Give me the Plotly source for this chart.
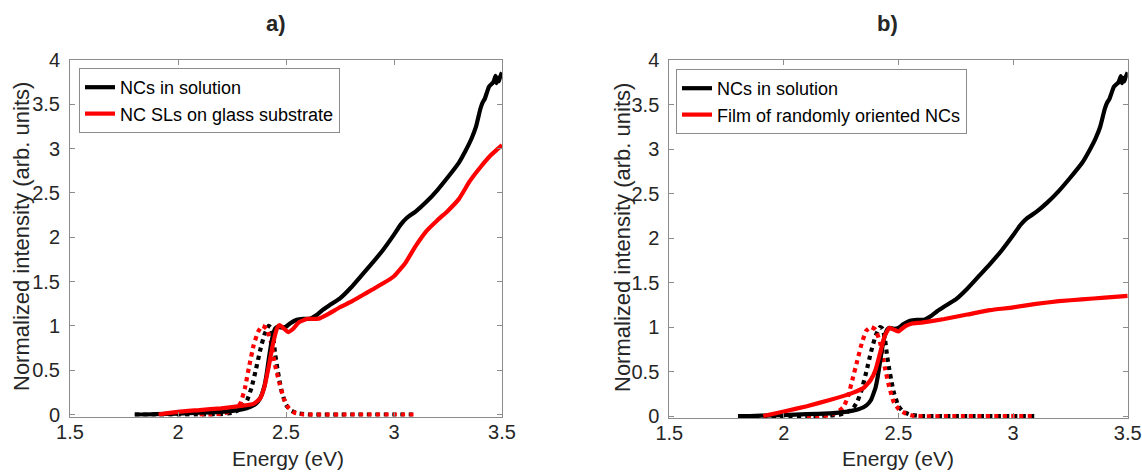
import plotly.graph_objects as go

# Absorption of the NCs in solution (solid black, both panels)
abs_sol_x = [1.80, 1.85, 1.90, 2.00, 2.10, 2.20, 2.25, 2.30, 2.33, 2.36, 2.38, 2.40, 2.41, 2.42,
             2.43, 2.44, 2.45, 2.46, 2.48, 2.50, 2.52, 2.55, 2.58, 2.61, 2.64, 2.67, 2.70, 2.75,
             2.80, 2.85, 2.90, 2.95, 3.00, 3.03, 3.06, 3.10, 3.15, 3.20, 3.25, 3.30, 3.33, 3.36,
             3.38, 3.40, 3.41, 3.42, 3.44, 3.46, 3.47, 3.475, 3.48, 3.485, 3.49, 3.50]
abs_sol_y = [0.00, 0.00, 0.005, 0.01, 0.02, 0.03, 0.04, 0.06, 0.08, 0.12, 0.18, 0.32, 0.45, 0.62,
             0.78, 0.90, 0.97, 0.99, 0.98, 0.99, 1.03, 1.07, 1.08, 1.08, 1.12, 1.18, 1.23, 1.31,
             1.43, 1.57, 1.71, 1.86, 2.03, 2.14, 2.22, 2.29, 2.40, 2.53, 2.68, 2.84, 2.97, 3.12,
             3.25, 3.45, 3.52, 3.56, 3.70, 3.75, 3.82, 3.74, 3.80, 3.76, 3.80, 3.86]

# Photoluminescence of the NCs in solution (dotted black, both panels)
pl_sol_x = [1.80, 1.90, 2.00, 2.10, 2.20, 2.25, 2.28, 2.30, 2.32, 2.34, 2.36, 2.38, 2.40, 2.42,
            2.43, 2.44, 2.45, 2.46, 2.47, 2.48, 2.50, 2.52, 2.55, 2.60, 2.80, 3.00, 3.10]
pl_sol_y = [0.00, 0.00, 0.00, 0.00, 0.005, 0.02, 0.05, 0.08, 0.16, 0.30, 0.50, 0.72, 0.90, 1.00,
            0.98, 0.88, 0.68, 0.52, 0.38, 0.26, 0.11, 0.05, 0.015, 0.00, 0.00, 0.00, 0.00]

# Panel a: NC superlattices on glass substrate
abs_sl_x = [1.91, 2.00, 2.10, 2.20, 2.30, 2.35, 2.38, 2.40, 2.42, 2.44, 2.46, 2.47, 2.49, 2.51,
            2.53, 2.56, 2.60, 2.65, 2.70, 2.75, 2.80, 2.85, 2.90, 2.95, 3.00, 3.05, 3.10, 3.15,
            3.20, 3.25, 3.30, 3.35, 3.40, 3.45, 3.50]
abs_sl_y = [0.00, 0.03, 0.05, 0.07, 0.10, 0.12, 0.18, 0.31, 0.54, 0.80, 0.98, 1.01, 0.97, 0.93,
            0.96, 1.04, 1.08, 1.08, 1.14, 1.21, 1.27, 1.34, 1.41, 1.48, 1.56, 1.70, 1.90, 2.07,
            2.19, 2.30, 2.43, 2.63, 2.79, 2.93, 3.04]
pl_sl_x = [2.10, 2.15, 2.20, 2.24, 2.27, 2.29, 2.31, 2.33, 2.35, 2.37, 2.39, 2.41, 2.43, 2.45,
           2.47, 2.49, 2.51, 2.54, 2.58, 2.80, 3.00, 3.10]
pl_sl_y = [0.00, 0.00, 0.01, 0.03, 0.07, 0.13, 0.30, 0.55, 0.78, 0.93, 1.00, 0.97, 0.82, 0.55,
           0.35, 0.18, 0.08, 0.02, 0.00, 0.00, 0.00, 0.00]

# Panel b: film of randomly oriented NCs
abs_film_x = [1.91, 2.00, 2.10, 2.20, 2.30, 2.35, 2.38, 2.40, 2.42, 2.44, 2.46, 2.48, 2.50, 2.53,
              2.56, 2.60, 2.70, 2.80, 2.90, 3.00, 3.10, 3.20, 3.30, 3.40, 3.50]
abs_film_y = [0.00, 0.05, 0.11, 0.18, 0.26, 0.32, 0.41, 0.52, 0.71, 0.90, 0.99, 0.97, 0.95, 1.01,
              1.04, 1.05, 1.09, 1.14, 1.19, 1.22, 1.26, 1.29, 1.31, 1.33, 1.35]
pl_film_x = [2.10, 2.15, 2.20, 2.23, 2.26, 2.28, 2.30, 2.32, 2.34, 2.36, 2.38, 2.40, 2.42, 2.44,
             2.46, 2.48, 2.50, 2.53, 2.57, 2.80, 3.00, 3.10]
pl_film_y = [0.00, 0.00, 0.01, 0.04, 0.10, 0.22, 0.42, 0.62, 0.82, 0.96, 1.00, 0.97, 0.82, 0.55,
             0.32, 0.15, 0.08, 0.03, 0.00, 0.00, 0.00, 0.00]

x_ticks = [1.5, 2, 2.5, 3, 3.5]
y_ticks = [0, 0.5, 1, 1.5, 2, 2.5, 3, 3.5, 4]

FONT = "Liberation Sans, Arial, Helvetica, sans-serif"
W, H = 1142, 472
LW = 4.2
Y_LOW = -0.025   # small pad so the baseline of the curves is not cut by the frame

fig = go.Figure()

def add_panel(xa, ya, legend, sample_x, sample_y, sample_name, pl_x, pl_y):
    smooth = dict(shape="spline", smoothing=0.4)
    fig.add_trace(go.Scatter(x=pl_sol_x, y=pl_sol_y, mode="lines", xaxis=xa, yaxis=ya,
                             line=dict(color="black", width=LW, dash="dot", **smooth),
                             showlegend=False))
    fig.add_trace(go.Scatter(x=pl_x, y=pl_y, mode="lines", xaxis=xa, yaxis=ya,
                             line=dict(color="#ff0000", width=LW, dash="dot", **smooth),
                             showlegend=False))
    fig.add_trace(go.Scatter(x=abs_sol_x, y=abs_sol_y, mode="lines", xaxis=xa, yaxis=ya,
                             name="NCs in solution", legend=legend,
                             line=dict(color="black", width=LW, **smooth)))
    fig.add_trace(go.Scatter(x=sample_x, y=sample_y, mode="lines", xaxis=xa, yaxis=ya,
                             name=sample_name, legend=legend,
                             line=dict(color="#ff0000", width=LW, **smooth)))

add_panel("x", "y", "legend", abs_sl_x, abs_sl_y, "NC SLs on glass substrate", pl_sl_x, pl_sl_y)
add_panel("x2", "y2", "legend2", abs_film_x, abs_film_y, "Film of randomly oriented NCs",
          pl_film_x, pl_film_y)

axis_common = dict(showgrid=False, zeroline=False, showline=True, linecolor="#8c8c8c",
                   linewidth=1, mirror="ticks", ticks="inside", ticklen=5, tickcolor="#8c8c8c",
                   automargin=False,
                   tickfont=dict(family=FONT, size=20, color="#262626"))

def px_x(p):
    return p / W

def px_y(p):
    return 1 - p / H

# pixel rows of the y=0 line and the top frame of each panel
A_ZERO, B_ZERO, TOP = 414.5, 416.0, 60.0

def bottom_px(zero_px):
    per_unit = (zero_px - TOP) / 4.0
    return zero_px + (-Y_LOW) * per_unit

leg_style = dict(xanchor="left", yanchor="top", bgcolor="white", bordercolor="#8c8c8c",
                 borderwidth=1, font=dict(family=FONT, size=18, color="black"),
                 tracegroupgap=0, itemwidth=30)

fig.update_layout(
    width=W, height=H,
    margin=dict(l=0, r=0, t=0, b=0, autoexpand=False),
    paper_bgcolor="white", plot_bgcolor="white",
    xaxis=dict(domain=[px_x(70), px_x(502)], range=[1.5, 3.5], tickvals=x_ticks,
               ticklabelstandoff=-3, anchor="y", **axis_common),
    yaxis=dict(domain=[px_y(bottom_px(A_ZERO)), px_y(TOP)], range=[Y_LOW, 4], tickvals=y_ticks,
               ticklabelstandoff=5, anchor="x", **axis_common),
    xaxis2=dict(domain=[px_x(669.3), px_x(1127.7)], range=[1.5, 3.5], tickvals=x_ticks,
                ticklabelstandoff=-3, anchor="y2", **axis_common),
    yaxis2=dict(domain=[px_y(bottom_px(B_ZERO)), px_y(TOP)], range=[Y_LOW, 4], tickvals=y_ticks,
                ticklabelstandoff=5, anchor="x2", **axis_common),
    legend=dict(x=px_x(79), y=px_y(68), **leg_style),
    legend2=dict(x=px_x(676), y=px_y(69), **leg_style),
)

annots = [
    dict(text="<b>a)</b>", x=px_x(276), y=px_y(24), size=22, angle=0),
    dict(text="<b>b)</b>", x=px_x(887), y=px_y(24), size=22, angle=0),
    dict(text="Energy (eV)", x=px_x(288), y=px_y(458), size=21, angle=0),
    dict(text="Energy (eV)", x=px_x(898), y=px_y(458), size=21, angle=0),
    dict(text="Normalized intensity (arb. units)", x=px_x(21), y=px_y(237), size=22, angle=-90),
    dict(text="Normalized intensity (arb. units)", x=px_x(622), y=px_y(238), size=22, angle=-90),
]
for a in annots:
    fig.add_annotation(text=a["text"], x=a["x"], y=a["y"], xref="paper", yref="paper",
                       xanchor="center", yanchor="middle", showarrow=False,
                       textangle=a["angle"], borderpad=0,
                       font=dict(family=FONT, size=a["size"], color="#262626"))

fig.write_html("out.html")
